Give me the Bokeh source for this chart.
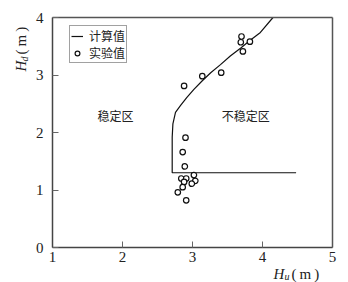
import math
from bokeh.plotting import figure
from bokeh.models import Range1d, FixedTicker, Label, Legend, LegendItem, ColumnDataSource, LinearAxis
from bokeh.embed import file_html
from bokeh.resources import INLINE

# Calculated stability boundary (计算值)
curve_x = [4.48, 2.71, 2.71, 2.72, 2.757, 2.83, 2.92, 3.02, 3.14, 3.26, 3.40, 3.54, 3.69, 3.82, 3.97, 4.15]
curve_y = [1.30, 1.30, 1.92, 2.15, 2.35, 2.47, 2.61, 2.75, 2.90, 3.04, 3.18, 3.33, 3.47, 3.60, 3.74, 4.00]

# Experimental points (实验值)
exp_x = [2.90, 2.86, 2.89, 2.84, 2.91, 3.02, 3.04, 2.88, 2.99, 2.86, 2.79, 2.91,
         3.70, 3.69, 3.82, 3.72, 3.41, 3.14, 2.88]
exp_y = [1.91, 1.66, 1.41, 1.20, 1.20, 1.26, 1.16, 1.14, 1.11, 1.05, 0.96, 0.82,
         3.67, 3.57, 3.58, 3.41, 3.04, 2.98, 2.81]

x_ticks = [1, 2, 3, 4, 5]
y_ticks = [0, 1, 2, 3, 4]
X_MIN, X_MAX = 1, 5
Y_MIN, Y_MAX = 0, 4

# Canvas layout (pixels): plot box spans x 52..332, y 17..247 of a 348x282 canvas.
W, H = 348, 282
BOX_L, BOX_R, BOX_T, BOX_B = 52, 332, 17, 247
sx = (BOX_R - BOX_L) / (X_MAX - X_MIN)
sy = (BOX_B - BOX_T) / (Y_MAX - Y_MIN)
xr = Range1d(X_MIN - BOX_L / sx, X_MAX + (W - BOX_R) / sx)
yr = Range1d(Y_MIN - (H - BOX_B) / sy, Y_MAX + BOX_T / sy)

p = figure(width=W, height=H, output_backend="svg", toolbar_location=None,
           x_range=xr, y_range=yr, x_axis_type=None, y_axis_type=None, min_border=0)
p.xgrid.visible = False
p.ygrid.visible = False
p.background_fill_color = "white"
p.border_fill_color = "white"
p.outline_line_color = None

def make_axis(loc, bounds, ticks, labels=True):
    ax = LinearAxis(fixed_location=loc, bounds=bounds, ticker=FixedTicker(ticks=ticks))
    ax.major_tick_in = 6 if labels else 0
    ax.major_tick_out = 0
    ax.minor_tick_line_color = None
    ax.axis_line_color = "#444444"
    ax.axis_line_width = 1.5
    ax.major_tick_line_color = "#666666"
    ax.major_label_text_font = "Liberation Serif"
    ax.major_label_text_font_size = "15px"
    ax.major_label_text_color = "#222222"
    if not labels:
        ax.major_label_text_alpha = 0
        ax.major_tick_line_color = None
        ax.axis_line_color = "#555555"
    return ax

xa = make_axis(Y_MIN, (X_MIN, X_MAX), x_ticks)
xa.major_label_standoff = 4
ya = make_axis(X_MIN, (Y_MIN, Y_MAX), y_ticks)
ya.major_label_standoff = 9
p.add_layout(xa, "below")
p.add_layout(ya, "left")
p.add_layout(make_axis(Y_MAX, (X_MIN, X_MAX), [], labels=False), "above")
p.add_layout(make_axis(X_MAX, (Y_MIN, Y_MAX), [], labels=False), "right")

src_c = ColumnDataSource(dict(x=curve_x, y=curve_y))
src_e = ColumnDataSource(dict(x=exp_x, y=exp_y))
r_line = p.line("x", "y", source=src_c, line_color="#111111", line_width=1.2)
r_pts = p.scatter("x", "y", source=src_e, marker="circle", size=5.5,
                  line_color="#111111", line_width=1.2, fill_color="white")

legend = Legend(items=[LegendItem(label="计算值", renderers=[r_line]),
                       LegendItem(label="实验值", renderers=[r_pts])],
                location=(69, H - 63), orientation="vertical")
legend.label_text_font = "Noto Sans CJK SC"
legend.label_text_font_size = "12px"
legend.label_text_color = "#222222"
legend.border_line_color = "#444444"
legend.border_line_width = 1
legend.padding = 1
legend.spacing = 0
legend.margin = 0
legend.glyph_width = 12
legend.glyph_height = 16
legend.label_height = 16
legend.label_standoff = 6
legend.background_fill_alpha = 1
p.add_layout(legend, "center")

CJK = "Noto Sans CJK SC"
p.add_layout(Label(x=1.9, y=2.3, text="稳定区", text_font=CJK, text_font_size="12px",
                   text_color="#222222", text_align="center", text_baseline="middle"))
p.add_layout(Label(x=3.76, y=2.3, text="不稳定区", text_font=CJK, text_font_size="12px",
                   text_color="#222222", text_align="center", text_baseline="middle"))

SERIF = "Liberation Serif"
def slabel(px, py, text, size, italic=False, angle=0.0):
    p.add_layout(Label(x=px, y=H - py, x_units="screen", y_units="screen",
                       text=text, text_font=SERIF,
                       text_font_style="italic" if italic else "normal",
                       text_font_size=size, text_color="#222222", text_baseline="middle",
                       angle=angle))

# x axis label: H_u(m)
slabel(273, 273, "H", "15px", italic=True)
slabel(284, 276, "u", "10px", italic=True)
slabel(291, 273, "(\u2009m\u2009)", "15px")

# y axis label: H_d(m), rotated
slabel(20, 71, "H", "15px", italic=True, angle=math.pi / 2)
slabel(24, 61, "d", "10px", italic=True, angle=math.pi / 2)
slabel(20, 54, "(\u2009m\u2009)", "15px", angle=math.pi / 2)

open("out.html", "w").write(file_html(p, INLINE))
